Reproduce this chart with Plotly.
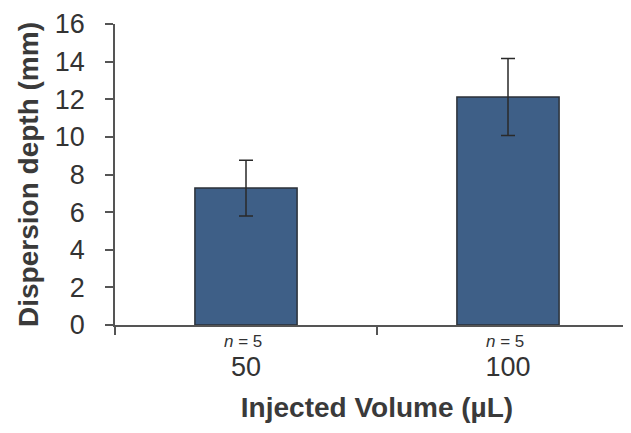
import plotly.graph_objects as go

categories = ["50", "100"]
means = [7.28, 12.12]
errors = [1.48, 2.05]
n_labels = ["5", "5"]
y_ticks = [0, 2, 4, 6, 8, 10, 12, 14, 16]

BAR = "#3e5f87"
EDGE = "#2b3138"
TXT = "#333333"
FONT = "Liberation Sans, Arial, sans-serif"

fig = go.Figure()
fig.add_trace(go.Bar(
    x=categories, y=means,
    width=0.39,
    marker=dict(color=BAR, line=dict(color=EDGE, width=1.5)),
    error_y=dict(type="data", array=errors, visible=True,
                 color="#2a2a2a", thickness=1.5, width=7),
))

for i, n in enumerate(n_labels):
    fig.add_annotation(x=i, y=0, xref="x", yref="paper", yanchor="top",
                       yshift=-5, xshift=-3, showarrow=False,
                       text=f"<i>n</i> = {n}",
                       font=dict(family=FONT, size=17, color=TXT))

fig.update_layout(
    width=631, height=433,
    margin=dict(l=107, r=0, t=16, b=116),
    paper_bgcolor="white", plot_bgcolor="white",
    showlegend=False,
    font=dict(family=FONT, color=TXT),
    xaxis=dict(
        type="category", range=[-0.5, 1.5],
        showline=True, linecolor="#555555", linewidth=2,
        ticks="outside", tickson="boundaries", ticklen=8, tickwidth=1.5,
        tickcolor="#555555",
        tickfont=dict(family=FONT, size=27, color=TXT),
        ticklabelstandoff=17,
        showgrid=False, zeroline=False, automargin=False,
        title=dict(text="<b>Injected Volume (µL)</b>", standoff=16,
                   font=dict(family=FONT, size=28, color="#3a3a3a")),
    ),
    yaxis=dict(
        range=[0, 16], tickvals=y_ticks,
        showline=True, linecolor="#555555", linewidth=1.5,
        ticks="outside", ticklen=8, tickwidth=1.5, tickcolor="#555555",
        tickfont=dict(family=FONT, size=27, color=TXT),
        ticklabelstandoff=15, ticklabeloverflow="allow",
        showgrid=False, zeroline=False, automargin=False,
        title=dict(text="<b>Dispersion depth (mm)</b>", standoff=8,
                   font=dict(family=FONT, size=28, color="#3a3a3a")),
    ),
)

fig.write_html("out.html")
